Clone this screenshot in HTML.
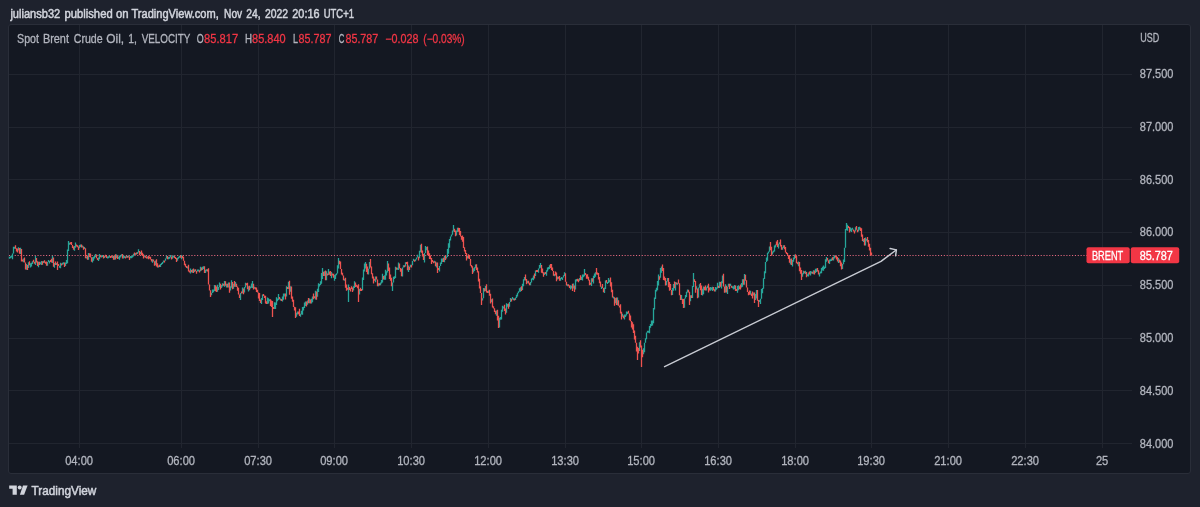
<!DOCTYPE html>
<html><head><meta charset="utf-8"><style>
html,body{margin:0;padding:0;}
body{width:1200px;height:507px;overflow:hidden;background:#1e222d;position:relative;}
svg{position:absolute;left:0;top:0;}
text{font-family:"Liberation Sans",Arial,sans-serif;font-size:12px;stroke-width:0.3;}
.g{fill:#b2b5be;stroke:#b2b5be;}
.r{fill:#f23645;stroke:#f23645;}
.w{fill:#fff;stroke:#fff;}
.h{fill:#d1d4dc;stroke:#d1d4dc;stroke-width:0.5;}
</style></head><body>
<svg width="1200" height="507" viewBox="0 0 1200 507">
<rect x="8.5" y="24.5" width="1182" height="449" rx="2.5" fill="#141822" stroke="#2a2e39" stroke-width="1"/>
<path stroke="#21252f" stroke-width="1" fill="none" d="M79.5 25V448M181.5 25V448M258.5 25V448M334.5 25V448M411.5 25V448M488.5 25V448M565.5 25V448M641.5 25V448M718.5 25V448M795.5 25V448M871.5 25V448M948.5 25V448M1025.5 25V448M1102.5 25V448M9 74.5H1132M9 127.5H1132M9 179.5H1132M9 232.5H1132M9 285.5H1132M9 338.5H1132M9 390.5H1132M9 443.5H1132"/>
<path stroke="#e86a80" stroke-width="1" stroke-dasharray="1.1 1.75" fill="none" d="M9 255.5H1087"/>
<path stroke="#26a69a" stroke-width="1.3" fill="none" d="M9.5 256.8V258.8M10.5 256.2V258.2M11.5 255.6V257.6M12.5 253.4V259.2M13.5 246.7V253.4M14.5 246.7V248.7M18.5 247.3V250.5M20.5 247.7V254.1M23.5 258.4V262.3M26.5 264.0V269.7M28.5 262.3V267.9M30.5 263.3V267.6M31.5 262.7V266.5M32.5 261.3V263.9M35.5 256.1V265.0M38.5 261.7V267.3M40.5 262.2V264.2M41.5 260.9V265.0M43.5 261.1V263.1M47.5 261.9V265.8M48.5 260.0V262.0M49.5 260.9V263.6M52.5 255.8V262.9M54.5 263.1V267.7M56.5 263.1V265.1M59.5 265.7V267.7M60.5 262.7V268.2M62.5 262.7V264.8M63.5 262.3V264.3M65.5 262.6V266.0M66.5 259.9V263.9M67.5 249.4V263.2M68.5 241.0V250.9M69.5 242.8V244.8M74.5 246.0V250.7M75.5 242.5V247.7M79.5 244.9V248.2M80.5 244.6V247.0M82.5 245.5V247.5M84.5 247.0V249.0M86.5 256.4V258.4M88.5 252.9V259.8M92.5 257.3V262.5M93.5 256.8V260.8M94.5 255.8V258.4M95.5 253.9V257.0M98.5 257.5V260.9M99.5 254.0V259.2M101.5 255.6V257.6M102.5 255.1V257.1M104.5 256.0V258.0M107.5 256.4V258.4M108.5 256.2V258.2M109.5 255.6V257.6M112.5 255.9V257.9M114.5 255.6V259.8M116.5 254.4V258.0M118.5 256.7V258.7M119.5 255.5V259.8M120.5 255.4V257.4M121.5 254.2V256.2M123.5 255.2V258.4M124.5 256.1V258.1M126.5 255.8V257.8M128.5 255.4V257.6M130.5 256.1V258.2M131.5 255.9V258.2M132.5 255.6V257.6M133.5 253.8V256.4M135.5 252.9V255.0M137.5 251.9V254.1M138.5 249.3V252.6M140.5 251.9V254.2M144.5 255.2V257.3M147.5 256.5V258.5M152.5 259.2V262.7M155.5 260.5V265.3M158.5 265.5V267.5M160.5 264.0V266.9M161.5 263.1V265.1M162.5 261.9V263.9M163.5 260.4V262.4M165.5 258.6V260.8M166.5 255.5V258.6M168.5 257.0V259.3M169.5 256.7V258.7M170.5 255.0V257.5M172.5 255.8V258.8M173.5 255.5V257.5M177.5 257.7V260.8M178.5 256.8V258.8M179.5 255.8V257.8M181.5 255.1V259.2M187.5 266.4V268.5M190.5 268.6V273.5M192.5 269.2V272.8M194.5 269.5V271.9M197.5 269.4V271.5M198.5 269.6V271.6M200.5 266.8V271.3M202.5 266.8V269.9M203.5 266.3V269.0M205.5 269.7V273.0M206.5 269.2V271.3M211.5 292.8V295.2M212.5 289.6V292.9M213.5 289.6V292.3M214.5 284.9V291.1M217.5 284.8V291.8M218.5 287.0V289.9M219.5 282.5V287.2M221.5 284.9V287.9M222.5 283.3V286.6M224.5 281.1V286.8M226.5 283.8V287.6M228.5 282.5V287.4M230.5 286.2V290.4M231.5 280.2V287.7M233.5 283.7V288.7M235.5 282.0V286.7M240.5 292.9V299.9M242.5 287.4V293.2M244.5 287.0V292.4M245.5 282.7V287.6M248.5 286.3V291.6M250.5 286.5V288.5M251.5 283.5V287.8M252.5 281.1V288.1M254.5 286.7V288.7M261.5 297.9V304.1M262.5 294.5V299.9M267.5 297.6V304.1M268.5 298.3V303.5M269.5 299.2V301.2M274.5 302.2V308.9M275.5 302.5V309.0M276.5 297.3V305.1M277.5 298.4V301.2M278.5 294.1V300.0M280.5 298.4V300.4M282.5 296.6V301.4M283.5 293.5V299.7M284.5 293.5V296.6M286.5 286.2V296.5M288.5 281.7V289.0M290.5 286.3V291.7M296.5 312.7V316.8M297.5 311.6V314.5M300.5 313.8V316.7M301.5 310.7V314.6M302.5 307.1V314.8M303.5 306.8V310.6M304.5 302.5V308.0M305.5 301.5V306.1M307.5 300.6V304.7M309.5 298.5V303.2M311.5 298.7V303.4M312.5 296.6V302.3M315.5 290.8V299.6M317.5 288.8V296.7M318.5 283.2V292.0M319.5 284.0V286.5M320.5 281.2V284.9M321.5 273.0V283.8M322.5 268.0V278.9M324.5 271.2V276.0M326.5 271.2V280.2M328.5 269.0V274.9M331.5 272.0V278.3M334.5 274.9V280.8M335.5 274.2V279.0M336.5 273.3V275.3M337.5 265.2V273.4M338.5 257.9V268.5M344.5 278.7V280.7M348.5 284.4V302.0M353.5 286.3V290.5M354.5 281.3V287.9M359.5 288.9V294.5M362.5 277.4V290.2M363.5 269.5V280.0M364.5 263.4V271.5M365.5 262.0V268.6M368.5 268.8V274.5M369.5 262.1V268.8M375.5 276.6V282.3M378.5 283.3V286.3M380.5 282.6V285.2M381.5 280.1V283.6M382.5 273.7V282.4M384.5 275.3V279.8M385.5 269.7V279.7M386.5 271.3V275.4M387.5 261.0V272.5M392.5 282.6V291.0M393.5 276.8V282.6M394.5 276.3V279.0M395.5 266.8V277.9M397.5 267.7V269.7M398.5 262.5V270.1M402.5 267.6V276.5M403.5 265.3V267.6M405.5 262.2V266.4M408.5 265.6V271.9M410.5 264.7V267.3M412.5 261.0V265.2M413.5 258.8V261.0M415.5 259.2V261.2M416.5 257.4V259.4M417.5 254.7V257.4M419.5 250.8V258.2M420.5 244.8V252.3M424.5 253.0V262.5M425.5 246.0V253.0M426.5 247.1V250.2M434.5 260.7V262.7M436.5 262.6V267.4M439.5 266.1V271.6M440.5 262.6V266.1M441.5 258.5V264.0M442.5 258.5V262.1M444.5 255.8V262.2M446.5 256.6V258.6M447.5 249.1V257.0M448.5 243.2V253.7M449.5 238.9V247.7M450.5 236.4V240.4M451.5 234.5V236.5M452.5 230.6V234.8M453.5 225.0V231.5M456.5 230.6V235.6M457.5 227.8V232.0M467.5 256.0V258.4M473.5 268.2V272.4M474.5 267.3V270.9M475.5 264.6V268.3M482.5 298.2V300.6M483.5 287.9V298.2M485.5 285.9V290.9M488.5 290.4V293.1M491.5 299.2V302.3M496.5 310.5V315.7M499.5 317.7V327.5M500.5 317.1V319.8M501.5 309.7V319.5M502.5 305.7V311.7M503.5 306.4V308.4M506.5 303.3V312.7M507.5 303.9V306.7M509.5 301.9V306.8M510.5 298.1V301.9M512.5 296.9V299.4M513.5 298.2V300.2M515.5 297.5V300.0M516.5 294.8V298.0M517.5 292.8V296.4M518.5 291.3V293.3M519.5 288.2V291.7M520.5 287.3V291.7M522.5 283.8V289.9M523.5 279.2V286.2M524.5 277.1V280.4M527.5 280.8V283.3M530.5 281.9V285.3M531.5 278.6V282.6M532.5 277.7V279.7M533.5 275.6V280.2M535.5 270.4V276.1M538.5 268.5V272.7M539.5 265.0V268.5M540.5 263.0V267.7M544.5 272.5V274.9M546.5 270.3V275.7M547.5 267.6V271.5M548.5 267.1V269.4M549.5 265.3V269.1M554.5 273.9V276.3M557.5 276.4V279.5M560.5 278.0V280.7M561.5 276.9V278.9M562.5 277.6V279.9M563.5 275.2V277.6M564.5 272.3V275.9M567.5 284.3V286.3M570.5 285.3V289.5M571.5 285.7V288.6M573.5 283.6V288.6M575.5 279.4V289.4M576.5 279.1V281.6M579.5 277.9V280.8M581.5 276.8V280.0M582.5 274.6V280.6M583.5 274.5V277.3M584.5 269.0V276.3M591.5 278.3V285.9M593.5 275.8V283.4M594.5 273.4V278.1M595.5 272.2V276.8M601.5 286.5V288.9M604.5 287.4V292.9M605.5 280.6V288.9M607.5 281.9V283.9M608.5 278.0V283.0M609.5 279.8V282.3M613.5 296.6V298.6M615.5 298.0V303.2M617.5 297.5V305.3M622.5 313.8V316.8M624.5 314.6V319.5M625.5 314.5V316.9M626.5 311.6V315.5M627.5 311.8V314.0M639.5 342.2V351.1M643.5 348.3V354.2M644.5 342.7V352.3M645.5 338.3V342.7M646.5 332.4V339.2M647.5 330.8V332.8M648.5 330.7V332.7M649.5 326.1V333.3M650.5 324.0V327.8M651.5 320.4V326.0M652.5 320.6V325.4M653.5 308.0V323.2M654.5 297.5V309.5M655.5 289.7V299.0M656.5 287.8V291.5M657.5 280.9V290.2M658.5 274.5V285.5M660.5 268.0V277.8M661.5 266.6V272.7M666.5 280.9V285.3M667.5 278.1V281.6M672.5 288.0V295.0M673.5 284.0V290.7M675.5 281.9V290.4M677.5 282.7V284.7M681.5 295.1V300.1M684.5 298.6V307.7M685.5 295.0V298.6M686.5 291.8V296.9M687.5 289.4V292.4M690.5 295.3V301.3M692.5 286.0V298.1M693.5 273.0V287.0M696.5 286.2V289.5M698.5 287.5V297.5M699.5 284.2V287.7M702.5 288.8V295.5M703.5 286.4V294.3M706.5 287.2V290.6M707.5 285.4V288.0M710.5 287.0V290.8M711.5 287.5V289.8M712.5 286.7V291.1M715.5 286.9V291.4M716.5 287.5V289.8M717.5 282.8V288.4M719.5 281.8V288.0M721.5 281.2V288.4M722.5 275.4V283.2M725.5 284.3V292.4M727.5 286.8V294.0M728.5 283.8V286.8M730.5 283.8V285.9M732.5 286.3V288.3M733.5 286.2V289.5M734.5 285.1V289.3M737.5 286.0V292.7M738.5 285.3V290.3M741.5 283.1V287.4M742.5 279.2V286.7M744.5 274.0V284.7M750.5 290.7V294.8M753.5 292.6V295.5M755.5 294.0V300.0M756.5 290.1V298.6M759.5 300.0V302.0M760.5 298.8V303.9M761.5 289.0V298.8M762.5 288.0V293.3M763.5 278.2V288.7M764.5 271.2V279.1M765.5 262.1V273.2M766.5 257.5V262.1M767.5 252.7V260.8M768.5 251.4V253.4M769.5 246.6V251.8M772.5 251.6V254.5M773.5 250.6V252.6M774.5 245.5V251.5M775.5 244.4V247.5M778.5 243.7V248.5M779.5 242.3V244.3M782.5 247.2V249.8M783.5 245.3V248.1M790.5 258.7V264.6M792.5 260.0V266.5M793.5 257.4V261.7M794.5 254.8V259.3M798.5 261.5V266.2M802.5 273.2V276.7M803.5 270.7V274.2M805.5 270.8V273.9M807.5 274.2V276.2M808.5 272.4V276.6M810.5 270.9V275.6M811.5 271.4V273.4M813.5 270.3V274.3M815.5 268.7V273.0M816.5 268.6V271.9M819.5 272.8V276.4M820.5 271.5V273.6M821.5 268.1V273.3M822.5 266.8V270.4M823.5 265.5V270.8M824.5 266.7V268.9M825.5 259.3V267.9M826.5 257.0V261.7M829.5 259.6V263.9M830.5 259.2V261.2M831.5 258.4V261.1M833.5 256.7V260.5M834.5 255.3V258.6M838.5 258.1V262.9M842.5 264.0V268.9M843.5 259.6V264.3M844.5 247.7V262.1M845.5 229.1V247.7M846.5 223.0V230.3M847.5 224.7V230.8M850.5 227.6V231.2M851.5 228.6V231.9M852.5 227.7V229.7M855.5 227.3V231.4M858.5 227.1V231.5M859.5 226.8V229.8M863.5 238.9V241.9M865.5 237.6V245.4M866.5 238.8V240.8"/>
<path stroke="#ef5350" stroke-width="1.3" fill="none" d="M15.5 245.2V248.8M16.5 248.2V251.5M17.5 248.6V252.5M19.5 248.0V253.7M21.5 249.1V261.4M22.5 259.5V261.5M24.5 257.6V262.4M25.5 262.4V269.4M27.5 264.9V270.0M29.5 261.2V265.2M33.5 259.8V262.3M34.5 261.8V263.8M36.5 258.1V262.6M37.5 261.3V265.9M39.5 261.7V265.1M42.5 261.3V264.8M44.5 260.3V262.8M45.5 261.7V263.7M46.5 261.4V265.8M50.5 260.1V262.1M51.5 258.8V262.4M53.5 257.4V266.7M55.5 261.4V265.1M57.5 261.6V270.0M58.5 264.1V266.1M61.5 263.5V265.5M64.5 262.4V266.9M70.5 242.3V244.3M71.5 241.9V245.0M72.5 245.0V248.0M73.5 246.6V249.7M76.5 244.5V246.5M77.5 245.3V247.3M78.5 246.6V250.1M81.5 244.6V247.6M83.5 246.4V249.7M85.5 248.2V258.2M87.5 255.6V259.7M89.5 253.3V256.9M90.5 253.6V257.4M91.5 257.2V261.7M96.5 254.4V258.2M97.5 258.0V260.0M100.5 255.3V257.3M103.5 255.8V258.5M105.5 254.8V256.8M106.5 255.9V257.9M110.5 256.1V258.1M111.5 255.4V257.6M113.5 255.7V259.8M115.5 254.3V259.4M117.5 255.7V258.9M122.5 253.9V258.6M125.5 256.4V258.4M127.5 255.7V257.7M129.5 256.4V259.9M134.5 252.6V255.0M136.5 252.6V254.6M139.5 251.1V255.2M141.5 250.5V255.1M142.5 252.7V256.0M143.5 254.3V258.6M145.5 255.7V257.7M146.5 256.5V258.5M148.5 256.1V259.2M149.5 256.4V258.4M150.5 256.8V259.6M151.5 258.9V261.4M153.5 259.4V261.4M154.5 261.2V265.8M156.5 259.2V266.6M157.5 263.2V267.6M159.5 264.8V266.9M164.5 260.6V262.6M167.5 256.0V259.3M171.5 256.4V259.4M174.5 255.9V257.9M175.5 257.1V259.1M176.5 258.0V262.1M180.5 255.7V257.7M182.5 255.7V258.2M183.5 256.7V260.8M184.5 260.8V265.2M185.5 263.7V266.8M186.5 266.0V268.0M188.5 264.7V271.6M189.5 270.5V272.5M191.5 270.1V272.2M193.5 268.5V272.9M195.5 269.2V271.2M196.5 271.0V273.7M199.5 270.3V272.5M201.5 267.5V270.5M204.5 266.3V273.1M207.5 269.2V271.4M208.5 268.2V284.6M209.5 284.6V290.4M210.5 290.2V297.0M215.5 285.3V291.3M216.5 286.6V292.1M220.5 283.7V289.5M223.5 283.8V285.8M225.5 281.2V285.7M227.5 283.8V287.5M229.5 282.4V292.8M232.5 281.9V289.3M234.5 281.1V286.8M236.5 283.8V287.0M237.5 286.4V290.8M238.5 287.7V294.6M239.5 294.6V297.9M241.5 291.5V293.5M243.5 288.5V294.2M246.5 283.2V285.2M247.5 282.8V289.3M249.5 285.8V290.3M253.5 283.7V289.5M255.5 287.3V289.5M256.5 287.6V291.9M257.5 289.8V292.6M258.5 292.6V298.6M259.5 293.0V301.0M260.5 299.5V303.1M263.5 294.0V296.0M264.5 295.4V297.9M265.5 295.7V303.6M266.5 301.2V304.1M270.5 299.3V305.9M271.5 300.5V307.1M272.5 301.1V317.0M273.5 307.1V309.1M279.5 297.0V299.3M281.5 299.1V301.1M285.5 293.5V299.5M287.5 287.1V289.1M289.5 280.8V294.7M291.5 286.5V298.7M292.5 296.6V301.8M293.5 299.7V307.1M294.5 306.7V310.6M295.5 307.2V318.0M298.5 311.6V314.3M299.5 308.8V315.9M306.5 301.5V306.6M308.5 298.0V303.2M310.5 299.5V303.4M313.5 293.5V299.2M314.5 296.3V298.3M316.5 291.4V299.7M323.5 271.7V276.0M325.5 270.5V280.2M327.5 273.5V275.5M329.5 271.6V274.8M330.5 271.0V276.1M332.5 273.4V275.5M333.5 273.8V277.8M339.5 260.8V264.3M340.5 261.4V268.9M341.5 268.9V274.6M342.5 272.7V275.4M343.5 275.4V280.3M345.5 277.8V287.7M346.5 284.6V290.8M347.5 287.7V289.7M349.5 287.0V290.1M350.5 288.2V291.6M351.5 286.3V289.1M352.5 287.4V292.0M355.5 282.6V287.1M356.5 284.7V286.7M357.5 285.6V288.3M358.5 284.3V302.0M360.5 287.7V291.0M361.5 288.9V290.9M366.5 263.7V271.9M367.5 266.4V274.2M370.5 258.9V267.4M371.5 266.5V274.3M372.5 273.2V278.4M373.5 276.4V283.5M374.5 278.7V280.7M376.5 276.6V279.4M377.5 279.4V286.3M379.5 283.3V285.5M383.5 276.1V279.6M388.5 263.4V270.9M389.5 267.4V278.9M390.5 274.5V280.7M391.5 277.8V286.2M396.5 267.5V269.7M399.5 263.5V268.4M400.5 268.1V271.8M401.5 268.8V276.2M404.5 265.3V267.3M406.5 261.9V263.9M407.5 261.8V270.3M409.5 266.8V270.0M411.5 264.7V267.6M414.5 259.8V261.8M418.5 256.7V260.5M421.5 243.7V252.8M422.5 250.4V256.5M423.5 254.0V260.0M427.5 246.5V255.2M428.5 250.4V255.5M429.5 253.3V258.9M430.5 255.4V259.3M431.5 257.9V263.9M432.5 260.0V262.0M433.5 261.2V263.2M435.5 261.6V266.3M437.5 262.5V273.0M438.5 267.9V269.9M443.5 257.7V262.0M445.5 255.3V259.9M454.5 228.7V232.1M455.5 230.5V236.3M458.5 227.8V231.7M459.5 227.9V235.1M460.5 231.0V236.6M461.5 236.0V239.7M462.5 235.6V241.7M463.5 237.0V248.0M464.5 247.3V251.6M465.5 250.1V254.0M466.5 252.9V260.4M468.5 254.3V258.5M469.5 255.1V258.9M470.5 258.9V265.8M471.5 264.9V267.4M472.5 266.2V274.0M476.5 264.3V270.0M477.5 267.6V272.6M478.5 271.2V281.4M479.5 278.8V288.4M480.5 286.2V293.1M481.5 293.1V305.0M484.5 288.2V291.6M486.5 284.2V292.4M487.5 290.9V292.9M489.5 289.7V295.8M490.5 293.7V303.4M492.5 298.5V307.6M493.5 306.2V308.6M494.5 308.3V312.1M495.5 310.7V314.2M497.5 309.7V320.6M498.5 315.7V328.0M504.5 304.7V311.1M505.5 308.4V314.4M508.5 303.6V308.7M511.5 298.7V301.6M514.5 298.6V300.6M521.5 286.2V290.9M525.5 274.5V280.4M526.5 279.0V284.2M528.5 280.7V283.6M529.5 282.7V285.3M534.5 273.4V278.6M536.5 270.1V272.1M537.5 270.1V272.1M541.5 264.9V272.8M542.5 268.4V273.2M543.5 272.2V276.8M545.5 272.1V274.1M550.5 263.9V268.0M551.5 263.9V270.0M552.5 267.5V271.1M553.5 271.0V275.7M555.5 271.5V275.4M556.5 272.6V281.3M558.5 276.8V278.8M559.5 276.1V280.8M565.5 273.3V281.7M566.5 281.7V285.4M568.5 284.2V286.2M569.5 285.3V288.1M572.5 283.7V290.9M574.5 285.4V292.1M577.5 278.8V281.3M578.5 279.3V282.2M580.5 275.2V280.0M585.5 273.1V275.1M586.5 274.4V278.7M587.5 274.3V278.8M588.5 276.7V280.6M589.5 279.8V285.2M590.5 282.8V284.8M592.5 278.3V281.7M596.5 268.0V274.5M597.5 272.5V274.7M598.5 273.0V279.6M599.5 277.0V283.2M600.5 281.6V286.7M602.5 283.9V288.1M603.5 287.9V292.3M606.5 280.0V282.7M610.5 277.4V286.5M611.5 282.2V292.3M612.5 289.8V297.5M614.5 297.3V305.8M616.5 297.5V304.9M618.5 300.2V305.7M619.5 305.4V307.4M620.5 304.3V313.5M621.5 311.7V319.6M623.5 315.4V318.2M628.5 310.7V313.4M629.5 313.4V320.3M630.5 315.5V321.3M631.5 321.0V327.6M632.5 322.2V329.5M633.5 324.2V332.9M634.5 330.6V339.4M635.5 335.7V342.8M636.5 342.8V351.4M637.5 346.8V360.0M638.5 347.9V353.5M640.5 340.2V347.5M641.5 345.6V367.0M642.5 349.8V357.3M659.5 276.3V279.7M662.5 264.5V270.9M663.5 268.1V280.0M664.5 276.6V280.6M665.5 278.1V285.6M668.5 277.9V287.3M669.5 281.9V290.8M670.5 284.1V289.9M671.5 289.9V295.3M674.5 281.6V288.2M676.5 282.4V284.4M678.5 279.5V283.7M679.5 283.2V295.3M680.5 294.8V300.1M682.5 298.7V303.9M683.5 298.9V308.0M688.5 289.8V292.5M689.5 291.8V305.0M691.5 295.3V298.0M694.5 279.2V281.9M695.5 281.0V292.8M697.5 288.4V298.3M700.5 283.0V290.2M701.5 285.4V295.1M704.5 286.7V290.3M705.5 285.4V290.6M708.5 283.8V292.4M709.5 287.6V290.4M713.5 287.1V290.2M714.5 289.2V291.4M718.5 285.7V288.0M720.5 282.1V286.8M723.5 273.7V286.6M724.5 286.6V292.7M726.5 285.7V292.5M729.5 283.8V289.1M731.5 285.8V287.8M735.5 285.6V290.9M736.5 288.9V290.9M739.5 286.3V289.3M740.5 284.6V289.6M743.5 279.2V284.7M745.5 274.8V280.8M746.5 280.2V287.6M747.5 287.6V292.1M748.5 292.0V295.2M749.5 290.5V294.8M751.5 293.5V296.1M752.5 291.6V298.6M754.5 292.6V303.1M757.5 290.1V300.7M758.5 299.9V307.0M770.5 242.0V250.2M771.5 246.7V255.8M776.5 241.4V245.3M777.5 240.0V247.0M780.5 239.5V246.5M781.5 245.0V249.8M784.5 245.3V249.2M785.5 246.9V252.5M786.5 252.0V254.0M787.5 253.0V255.2M788.5 255.2V259.0M789.5 254.9V262.7M791.5 258.5V265.0M795.5 254.3V258.1M796.5 256.0V263.2M797.5 262.2V264.2M799.5 262.0V271.3M800.5 267.5V273.7M801.5 270.1V280.0M804.5 271.3V273.3M806.5 271.9V277.2M809.5 271.4V274.4M812.5 271.8V273.8M814.5 270.5V274.6M817.5 267.9V271.5M818.5 270.3V274.4M827.5 257.9V260.5M828.5 260.2V263.3M832.5 257.3V260.3M835.5 255.4V257.4M836.5 256.1V259.6M837.5 257.1V261.6M839.5 259.4V262.4M840.5 260.6V266.2M841.5 262.6V269.5M848.5 225.9V227.9M849.5 226.9V232.5M853.5 229.4V231.4M854.5 230.5V233.6M856.5 226.0V229.8M857.5 229.8V232.3M860.5 227.6V231.0M861.5 228.2V236.8M862.5 234.5V241.1M864.5 237.9V245.6M867.5 237.0V242.3M868.5 239.9V246.7M869.5 243.7V250.4M870.5 247.7V255.5M871.5 252.5V255.5"/>

<path d="M664.6 366.7L881 261.3L896.2 250" stroke="#c8cbd3" stroke-width="1.45" fill="none" stroke-linecap="round" stroke-linejoin="round"/>
<path d="M890.1 248.5L896.4 249.9L895.6 255.8" stroke="#c8cbd3" stroke-width="1.45" fill="none" stroke-linecap="round" stroke-linejoin="round"/>
<rect x="1086.5" y="247.3" width="43.2" height="16" rx="2" fill="#f23645"/>
<rect x="1130.8" y="247.3" width="48.4" height="16" rx="2" fill="#f23645"/>
<g fill="#d1d4dc">
<path d="M9.2 485.5H16.8V494.8H12.6V488.8H9.2Z"/><circle cx="19.7" cy="487.5" r="1.95"/><path d="M23 485.5H27.6L24.1 494.8H19.9Z"/>
</g>
<text class="h" x="10.42" y="17.9" textLength="49.78" lengthAdjust="spacingAndGlyphs">juliansb32</text>
<text class="h" x="64.5" y="17.9" textLength="48.13" lengthAdjust="spacingAndGlyphs">published</text>
<text class="h" x="116.0" y="17.9" textLength="12.64" lengthAdjust="spacingAndGlyphs">on</text>
<text class="h" x="131.5" y="17.9" textLength="87.31" lengthAdjust="spacingAndGlyphs">TradingView.com,</text>
<text class="h" x="224.1" y="17.9" textLength="18.1" lengthAdjust="spacingAndGlyphs">Nov</text>
<text class="h" x="246.3" y="17.9" textLength="14.29" lengthAdjust="spacingAndGlyphs">24,</text>
<text class="h" x="264.9" y="17.9" textLength="23.12" lengthAdjust="spacingAndGlyphs">2022</text>
<text class="h" x="292.3" y="17.9" textLength="27.2" lengthAdjust="spacingAndGlyphs">20:16</text>
<text class="h" x="323.8" y="17.9" textLength="30.14" lengthAdjust="spacingAndGlyphs">UTC+1</text>
<text class="g" x="17.1" y="43" textLength="21.91" lengthAdjust="spacingAndGlyphs">Spot</text>
<text class="g" x="42.9" y="43" textLength="26.09" lengthAdjust="spacingAndGlyphs">Brent</text>
<text class="g" x="73.75" y="43" textLength="28.86" lengthAdjust="spacingAndGlyphs">Crude</text>
<text class="g" x="106.25" y="43" textLength="17.83" lengthAdjust="spacingAndGlyphs">Oil,</text>
<text class="g" x="128.3" y="43" textLength="8.69" lengthAdjust="spacingAndGlyphs">1,</text>
<text class="g" x="141.7" y="43" textLength="48.7" lengthAdjust="spacingAndGlyphs">VELOCITY</text>
<text class="g" x="196.7" y="43" textLength="6.95" lengthAdjust="spacingAndGlyphs">O</text>
<text class="r" x="204.0" y="43" textLength="34.1" lengthAdjust="spacingAndGlyphs">85.817</text>
<text class="g" x="245.1" y="43" textLength="7.04" lengthAdjust="spacingAndGlyphs">H</text>
<text class="r" x="252.1" y="43" textLength="33.6" lengthAdjust="spacingAndGlyphs">85.840</text>
<text class="g" x="292.9" y="43" textLength="4.96" lengthAdjust="spacingAndGlyphs">L</text>
<text class="r" x="298.6" y="43" textLength="32.81" lengthAdjust="spacingAndGlyphs">85.787</text>
<text class="g" x="338.8" y="43" textLength="5.58" lengthAdjust="spacingAndGlyphs">C</text>
<text class="r" x="345.5" y="43" textLength="32.71" lengthAdjust="spacingAndGlyphs">85.787</text>
<text class="r" x="385.2" y="43" textLength="33.21" lengthAdjust="spacingAndGlyphs">−0.028</text>
<text class="r" x="423.3" y="43" textLength="41.4" lengthAdjust="spacingAndGlyphs">(−0.03%)</text>
<text class="g" x="65.15" y="464.8" textLength="27.9" lengthAdjust="spacingAndGlyphs">04:00</text>
<text class="g" x="167.15" y="464.8" textLength="27.9" lengthAdjust="spacingAndGlyphs">06:00</text>
<text class="g" x="244.15" y="464.8" textLength="27.9" lengthAdjust="spacingAndGlyphs">07:30</text>
<text class="g" x="320.15" y="464.8" textLength="27.9" lengthAdjust="spacingAndGlyphs">09:00</text>
<text class="g" x="397.15" y="464.8" textLength="27.9" lengthAdjust="spacingAndGlyphs">10:30</text>
<text class="g" x="474.15" y="464.8" textLength="27.9" lengthAdjust="spacingAndGlyphs">12:00</text>
<text class="g" x="551.15" y="464.8" textLength="27.9" lengthAdjust="spacingAndGlyphs">13:30</text>
<text class="g" x="627.15" y="464.8" textLength="27.9" lengthAdjust="spacingAndGlyphs">15:00</text>
<text class="g" x="704.15" y="464.8" textLength="27.9" lengthAdjust="spacingAndGlyphs">16:30</text>
<text class="g" x="781.15" y="464.8" textLength="27.9" lengthAdjust="spacingAndGlyphs">18:00</text>
<text class="g" x="857.15" y="464.8" textLength="27.9" lengthAdjust="spacingAndGlyphs">19:30</text>
<text class="g" x="934.15" y="464.8" textLength="27.9" lengthAdjust="spacingAndGlyphs">21:00</text>
<text class="g" x="1011.15" y="464.8" textLength="27.9" lengthAdjust="spacingAndGlyphs">22:30</text>
<text class="g" x="1095.9" y="464.8" textLength="12.4" lengthAdjust="spacingAndGlyphs">25</text>
<text class="g" x="1139.8" y="78.0" textLength="33.6" lengthAdjust="spacingAndGlyphs">87.500</text>
<text class="g" x="1139.8" y="130.82999999999998" textLength="33.6" lengthAdjust="spacingAndGlyphs">87.000</text>
<text class="g" x="1139.8" y="183.66" textLength="33.6" lengthAdjust="spacingAndGlyphs">86.500</text>
<text class="g" x="1139.8" y="236.49" textLength="33.6" lengthAdjust="spacingAndGlyphs">86.000</text>
<text class="g" x="1139.8" y="289.32" textLength="33.6" lengthAdjust="spacingAndGlyphs">85.500</text>
<text class="g" x="1139.8" y="342.15" textLength="33.6" lengthAdjust="spacingAndGlyphs">85.000</text>
<text class="g" x="1139.8" y="394.98" textLength="33.6" lengthAdjust="spacingAndGlyphs">84.500</text>
<text class="g" x="1139.8" y="447.81" textLength="33.6" lengthAdjust="spacingAndGlyphs">84.000</text>
<text class="g" x="1140.25" y="42" textLength="19.0" lengthAdjust="spacingAndGlyphs">USD</text>
<text class="w" x="1091.9" y="259.8" textLength="31.38" lengthAdjust="spacingAndGlyphs">BRENT</text>
<text class="w" x="1139.7" y="259.8" textLength="33.2" lengthAdjust="spacingAndGlyphs">85.787</text>
<text class="h" x="31.6" y="494.7" textLength="64.77" lengthAdjust="spacingAndGlyphs">TradingView</text>
</svg>
</body></html>
